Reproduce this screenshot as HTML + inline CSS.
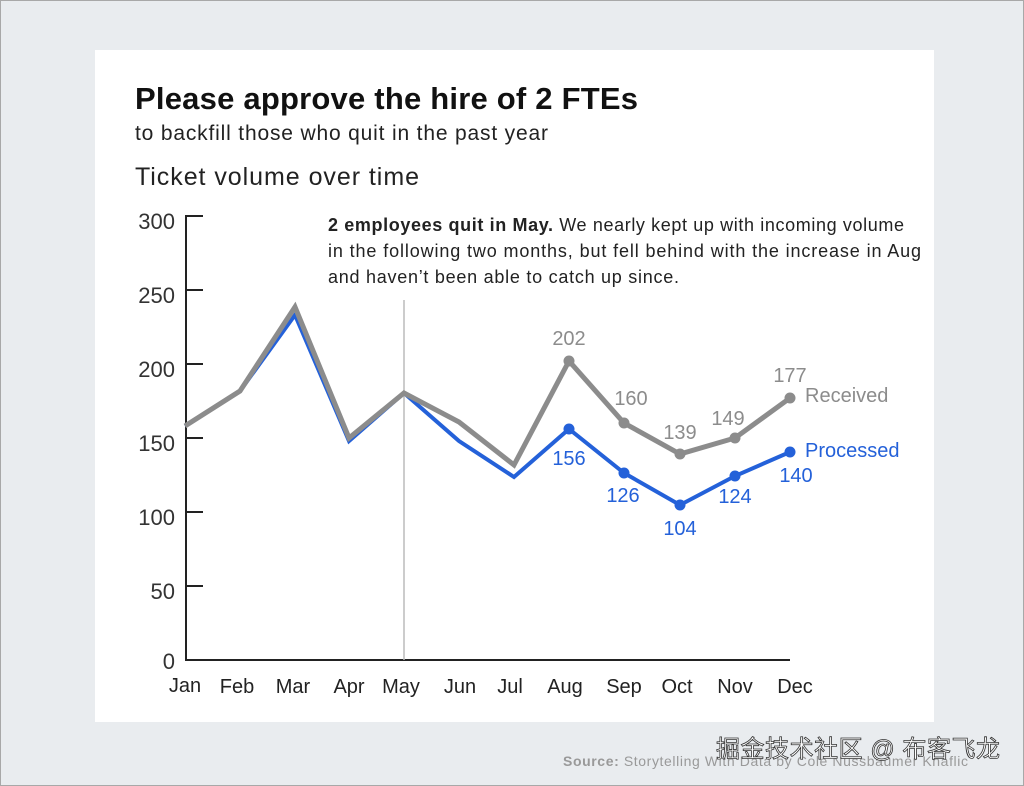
<!DOCTYPE html>
<html><head><meta charset="utf-8"><style>
html,body{margin:0;padding:0;}
body{width:1024px;height:786px;background:#e9ecef;position:relative;overflow:hidden;font-family:"Liberation Sans","Noto Sans CJK SC",sans-serif;}
.frame{position:absolute;left:0;top:0;width:1022px;height:784px;border:1px solid #a8a8a8;}
.card{position:absolute;left:95px;top:50px;width:839px;height:672px;background:#fff;}
svg{position:absolute;left:0;top:0;}
</style></head><body>
<div class="frame"></div>
<div class="card"></div>
<svg width="1024" height="786" font-family="Liberation Sans, Noto Sans CJK SC, sans-serif">
<text x="135" y="109" font-size="31" font-weight="bold" fill="#111" textLength="503">Please approve the hire of 2 FTEs</text>
<text x="135" y="140" font-size="21" fill="#222" textLength="413">to backfill those who quit in the past year</text>
<text x="135" y="185" font-size="25" fill="#222" textLength="284">Ticket volume over time</text>
<g stroke="#222" stroke-width="2">
<line x1="186" y1="215" x2="186" y2="660"/>
<line x1="185" y1="660" x2="790" y2="660"/>
<line x1="186" y1="216" x2="203" y2="216"/>
<line x1="186" y1="290" x2="203" y2="290"/>
<line x1="186" y1="364" x2="203" y2="364"/>
<line x1="186" y1="438" x2="203" y2="438"/>
<line x1="186" y1="512" x2="203" y2="512"/>
<line x1="186" y1="586" x2="203" y2="586"/>
</g>
<g font-size="22" fill="#333" text-anchor="end">
<text x="175" y="229">300</text><text x="175" y="303">250</text><text x="175" y="377">200</text>
<text x="175" y="451">150</text><text x="175" y="525">100</text><text x="175" y="599">50</text><text x="175" y="669">0</text>
</g>
<g font-size="20" fill="#222" text-anchor="middle">
<text x="185" y="692">Jan</text><text x="237" y="693">Feb</text><text x="293" y="693">Mar</text><text x="349" y="693">Apr</text>
<text x="401" y="693">May</text><text x="460" y="693">Jun</text><text x="510" y="693">Jul</text><text x="565" y="693">Aug</text>
<text x="624" y="693">Sep</text><text x="677" y="693">Oct</text><text x="735" y="693">Nov</text><text x="795" y="693">Dec</text>
</g>
<line x1="404" y1="300" x2="404" y2="660" stroke="#bbb" stroke-width="1.5"/>
<g font-size="18" fill="#222">
<text x="328" y="231" textLength="576"><tspan font-weight="bold">2 employees quit in May.</tspan> We nearly kept up with incoming volume</text>
<text x="328" y="257" textLength="593">in the following two months, but fell behind with the increase in Aug</text>
<text x="328" y="283" textLength="351">and haven’t been able to catch up since.</text>
</g>
<polyline fill="none" stroke="#2461d9" stroke-width="4" stroke-linejoin="miter" points="185,426 240,391 295,315 349,441 404,393 459,441 514,477 569,429 624,473 680,505 735,476 790,452"/>
<polyline fill="none" stroke="#8c8c8c" stroke-width="5" stroke-linejoin="miter" points="185,426 240,391 295,307 349,438 404,393 459,422 514,465 569,361 624,423 680,454 735,438 790,398"/>
<g fill="#8c8c8c"><circle cx="569" cy="361" r="5.5"/><circle cx="624" cy="423" r="5.5"/><circle cx="680" cy="454" r="5.5"/><circle cx="735" cy="438" r="5.5"/><circle cx="790" cy="398" r="5.5"/></g>
<g fill="#2461d9"><circle cx="569" cy="429" r="5.5"/><circle cx="624" cy="473" r="5.5"/><circle cx="680" cy="505" r="5.5"/><circle cx="735" cy="476" r="5.5"/><circle cx="790" cy="452" r="5.5"/></g>
<g font-size="20" fill="#8c8c8c" text-anchor="middle">
<text x="569" y="345">202</text><text x="631" y="405">160</text><text x="680" y="439">139</text><text x="728" y="425">149</text><text x="790" y="382">177</text>
<text x="805" y="402" text-anchor="start">Received</text>
</g>
<g font-size="20" fill="#2461d9" text-anchor="middle">
<text x="569" y="465">156</text><text x="623" y="502">126</text><text x="680" y="535">104</text><text x="735" y="503">124</text><text x="796" y="482">140</text>
<text x="805" y="457" text-anchor="start">Processed</text>
</g>
<text x="563" y="766" font-size="14" fill="#999" textLength="405"><tspan font-weight="bold">Source:</tspan> Storytelling With Data by Cole Nussbaumer Knaflic</text>
<text x="716" y="757" font-size="24" fill="#fff" stroke="#333" stroke-width="0.8" textLength="284">掘金技术社区 @ 布客飞龙</text>
</svg>
</body></html>
